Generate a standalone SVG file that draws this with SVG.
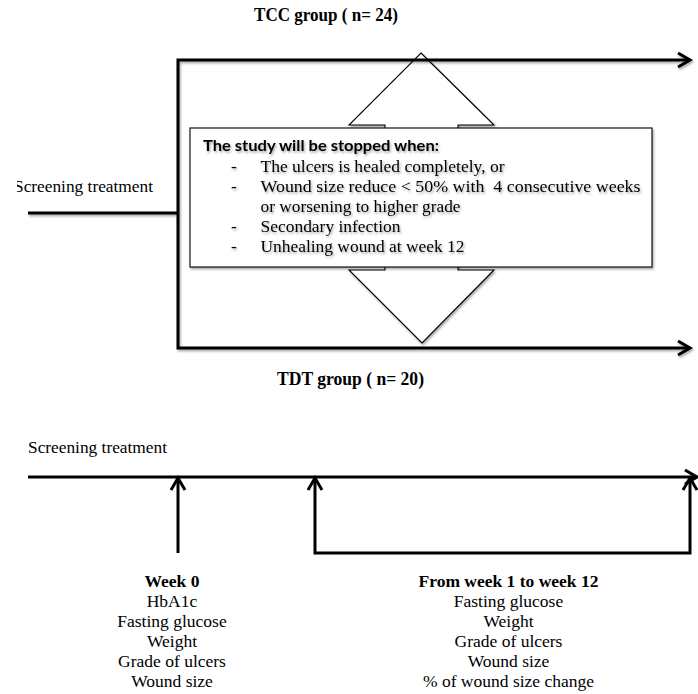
<svg xmlns="http://www.w3.org/2000/svg" width="698" height="694" viewBox="0 0 698 694">
  <style>
    .serif { font-family: "Liberation Serif", "Times New Roman", serif; fill: #000; }
    .bold { font-weight: bold; }
    .label { font-size: 17.5px; }
    .title { font-size: 19px; }
    .heading { font-family: Lato, "Liberation Sans", sans-serif; font-weight: bold; font-size: 16px; fill: #000; }
    .mid { text-anchor: middle; }
    .line { fill: none; stroke: #000; stroke-width: 3; stroke-linejoin: miter; }
    .outline { fill: #fff; stroke: #000; stroke-width: 1.1; }
  </style>
  <defs>
    <marker id="chevron" markerUnits="userSpaceOnUse" viewBox="-3 -10 18 20" markerWidth="18" markerHeight="20" refX="12" refY="0" orient="auto-start-reverse" overflow="visible">
      <path d="M0,-7 L12,0 L0,7" fill="none" stroke="#000" stroke-width="3"/>
    </marker>
    <filter id="shadow" x="-5%" y="-5%" width="110%" height="115%">
      <feDropShadow dx="1.2" dy="1.8" stdDeviation="1" flood-color="#000" flood-opacity="0.35"/>
    </filter>
    <clipPath id="leftClip">
      <rect x="17" y="170" width="170" height="30"/>
    </clipPath>
  </defs>

  <rect width="698" height="694" fill="#fff"/>

  <!-- group titles -->
  <g id="tcc-label">
    <text class="serif bold title" x="254" y="21" textLength="144" lengthAdjust="spacingAndGlyphs">TCC group ( n= 24)</text>
  </g>
  <g id="tdt-label">
    <text class="serif bold title" x="277" y="385" textLength="147" lengthAdjust="spacingAndGlyphs">TDT group ( n= 20)</text>
  </g>

  <!-- double-headed arrow behind the stop-criteria box -->
  <g id="stop-arrow" filter="url(#shadow)">
    <polygon class="outline" points="421,53 494,125 458,125 458,270 494,270 422,343 349,270 385,270 385,125 349,125"/>
  </g>

  <!-- stop-criteria box -->
  <g id="stop-box">
    <rect class="outline" x="190" y="128" width="462" height="139" filter="url(#shadow)"/>
    <g filter="url(#shadow)">
      <text class="heading" x="203" y="151" textLength="236" lengthAdjust="spacingAndGlyphs">The study will be stopped when:</text>
      <g class="serif label">
        <text x="231" y="172">-</text>
        <text x="260.5" y="172" textLength="244" lengthAdjust="spacingAndGlyphs">The ulcers is healed completely, or</text>
        <text x="231" y="192">-</text>
        <text x="260.5" y="192" xml:space="preserve" textLength="380" lengthAdjust="spacingAndGlyphs">Wound size reduce &lt; 50% with  4 consecutive weeks</text>
        <text x="260.5" y="212" textLength="200" lengthAdjust="spacingAndGlyphs">or worsening to higher grade</text>
        <text x="231" y="232">-</text>
        <text x="260.5" y="232" textLength="140" lengthAdjust="spacingAndGlyphs">Secondary infection</text>
        <text x="231" y="252">-</text>
        <text x="260.5" y="252" textLength="204" lengthAdjust="spacingAndGlyphs">Unhealing wound at week 12</text>
      </g>
    </g>
  </g>

  <!-- screening labels -->
  <g id="screening-top">
    <text class="serif label" x="14" y="192" textLength="139" lengthAdjust="spacingAndGlyphs" clip-path="url(#leftClip)">Screening treatment</text>
  </g>
  <g id="screening-bottom">
    <text class="serif label" x="28" y="453" textLength="139" lengthAdjust="spacingAndGlyphs">Screening treatment</text>
  </g>

  <!-- measurement lists -->
  <g id="week0" class="serif label mid">
    <text class="bold" x="172" y="587">Week 0</text>
    <text x="172" y="607">HbA1c</text>
    <text x="172" y="627">Fasting glucose</text>
    <text x="172" y="647">Weight</text>
    <text x="172" y="667">Grade of ulcers</text>
    <text x="172" y="687">Wound size</text>
  </g>
  <g id="week1-12" class="serif label mid">
    <text class="bold" x="508.5" y="587">From week 1 to week 12</text>
    <text x="508.5" y="607">Fasting glucose</text>
    <text x="508.5" y="627">Weight</text>
    <text x="508.5" y="647">Grade of ulcers</text>
    <text x="508.5" y="667">Wound size</text>
    <text x="508.5" y="687">% of wound size change</text>
  </g>

  <!-- connectors -->
  <g id="connectors">
    <g filter="url(#shadow)">
      <path class="line" d="M690,60 H178 V348 H690" marker-start="url(#chevron)" marker-end="url(#chevron)"/>
      <path class="line" d="M28,213 H178"/>
    </g>
    <path class="line" d="M28,477 H697" marker-end="url(#chevron)"/>
    <path class="line" d="M178,553 V478" marker-end="url(#chevron)"/>
    <path class="line" d="M315,478 V553 H690 V478" marker-start="url(#chevron)" marker-end="url(#chevron)"/>
  </g>
</svg>
